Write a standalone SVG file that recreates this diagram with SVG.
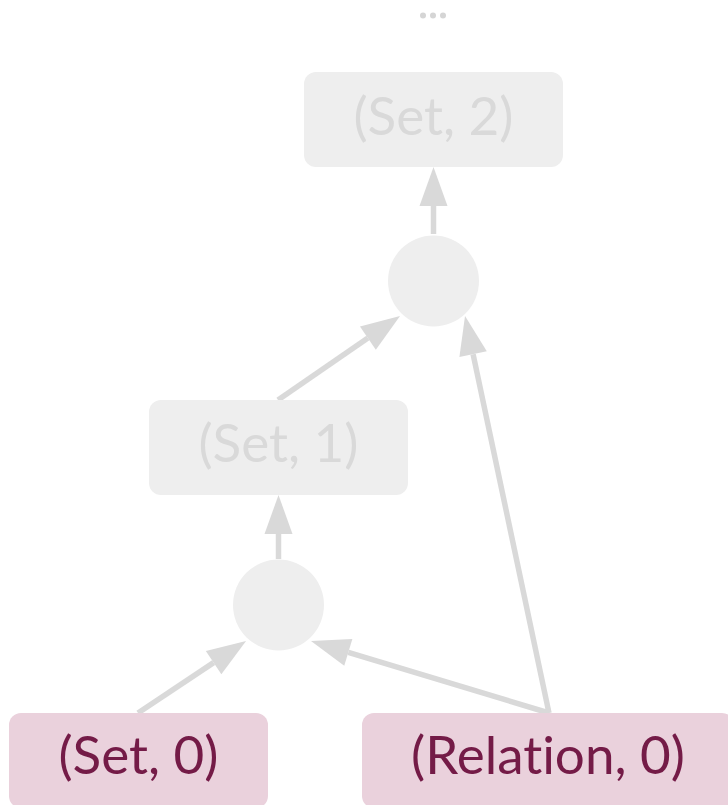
<svg xmlns="http://www.w3.org/2000/svg" width="728" height="805" viewBox="0 0 728 805">
  <style>
    .faded rect, .faded circle { fill: #eeeeee; }
    .faded text { fill: #d9d9d9; }
    .active rect { fill: #ead1dc; }
    .active text { fill: #741b47; }
    text { font-family: Lato, "Noto Sans", "Liberation Sans", sans-serif; font-size: 53px; text-anchor: middle; font-variant-ligatures: none; font-feature-settings: "liga" 0; }
    .edge { stroke: #d9d9d9; stroke-width: 5.5; fill: none; marker-end: url(#head); }
    .dots circle { fill: #d5d5d5; }
  </style>
  <defs>
    <marker id="head" markerUnits="userSpaceOnUse" markerWidth="40" markerHeight="30" refX="0" refY="0" viewBox="0 -15 40 30" orient="auto" overflow="visible">
      <path d="M0,-14 L39,0 L0,14 z" fill="#d9d9d9"/>
    </marker>
  </defs>

  <!-- ellipsis above the top node -->
  <g id="more" class="dots">
    <circle cx="423" cy="15.5" r="3"/>
    <circle cx="433" cy="15.5" r="3"/>
    <circle cx="443" cy="15.5" r="3"/>
  </g>

  <!-- connectors -->
  <g id="edges">
    <line class="edge" x1="433.5" y1="234" x2="433.5" y2="206"/>
    <line class="edge" x1="278" y1="400" x2="367.9" y2="338.1"/>
    <line class="edge" x1="549" y1="713" x2="473.1" y2="354.2"/>
    <line class="edge" x1="278.5" y1="559" x2="278.5" y2="534"/>
    <line class="edge" x1="138" y1="713" x2="213.6" y2="662.6"/>
    <line class="edge" x1="549" y1="713" x2="348.3" y2="652.3"/>
  </g>

  <g id="set2" class="faded">
    <rect x="304" y="72" width="259" height="95" rx="12"/>
    <text x="433.5" y="135">(Set, 2)</text>
  </g>

  <g id="join2" class="faded">
    <circle cx="433.5" cy="281" r="45.5"/>
  </g>

  <g id="set1" class="faded">
    <rect x="149" y="400" width="259" height="95" rx="12"/>
    <text x="278.5" y="462">(Set, 1)</text>
  </g>

  <g id="join1" class="faded">
    <circle cx="278.5" cy="605" r="45.5"/>
  </g>

  <g id="set0" class="active">
    <rect x="9" y="713" width="259" height="95" rx="12"/>
    <text x="138.5" y="774">(Set, 0)</text>
  </g>

  <g id="relation0" class="active">
    <rect x="362" y="713" width="372" height="95" rx="12"/>
    <text x="548" y="774">(Relation, 0)</text>
  </g>
</svg>
